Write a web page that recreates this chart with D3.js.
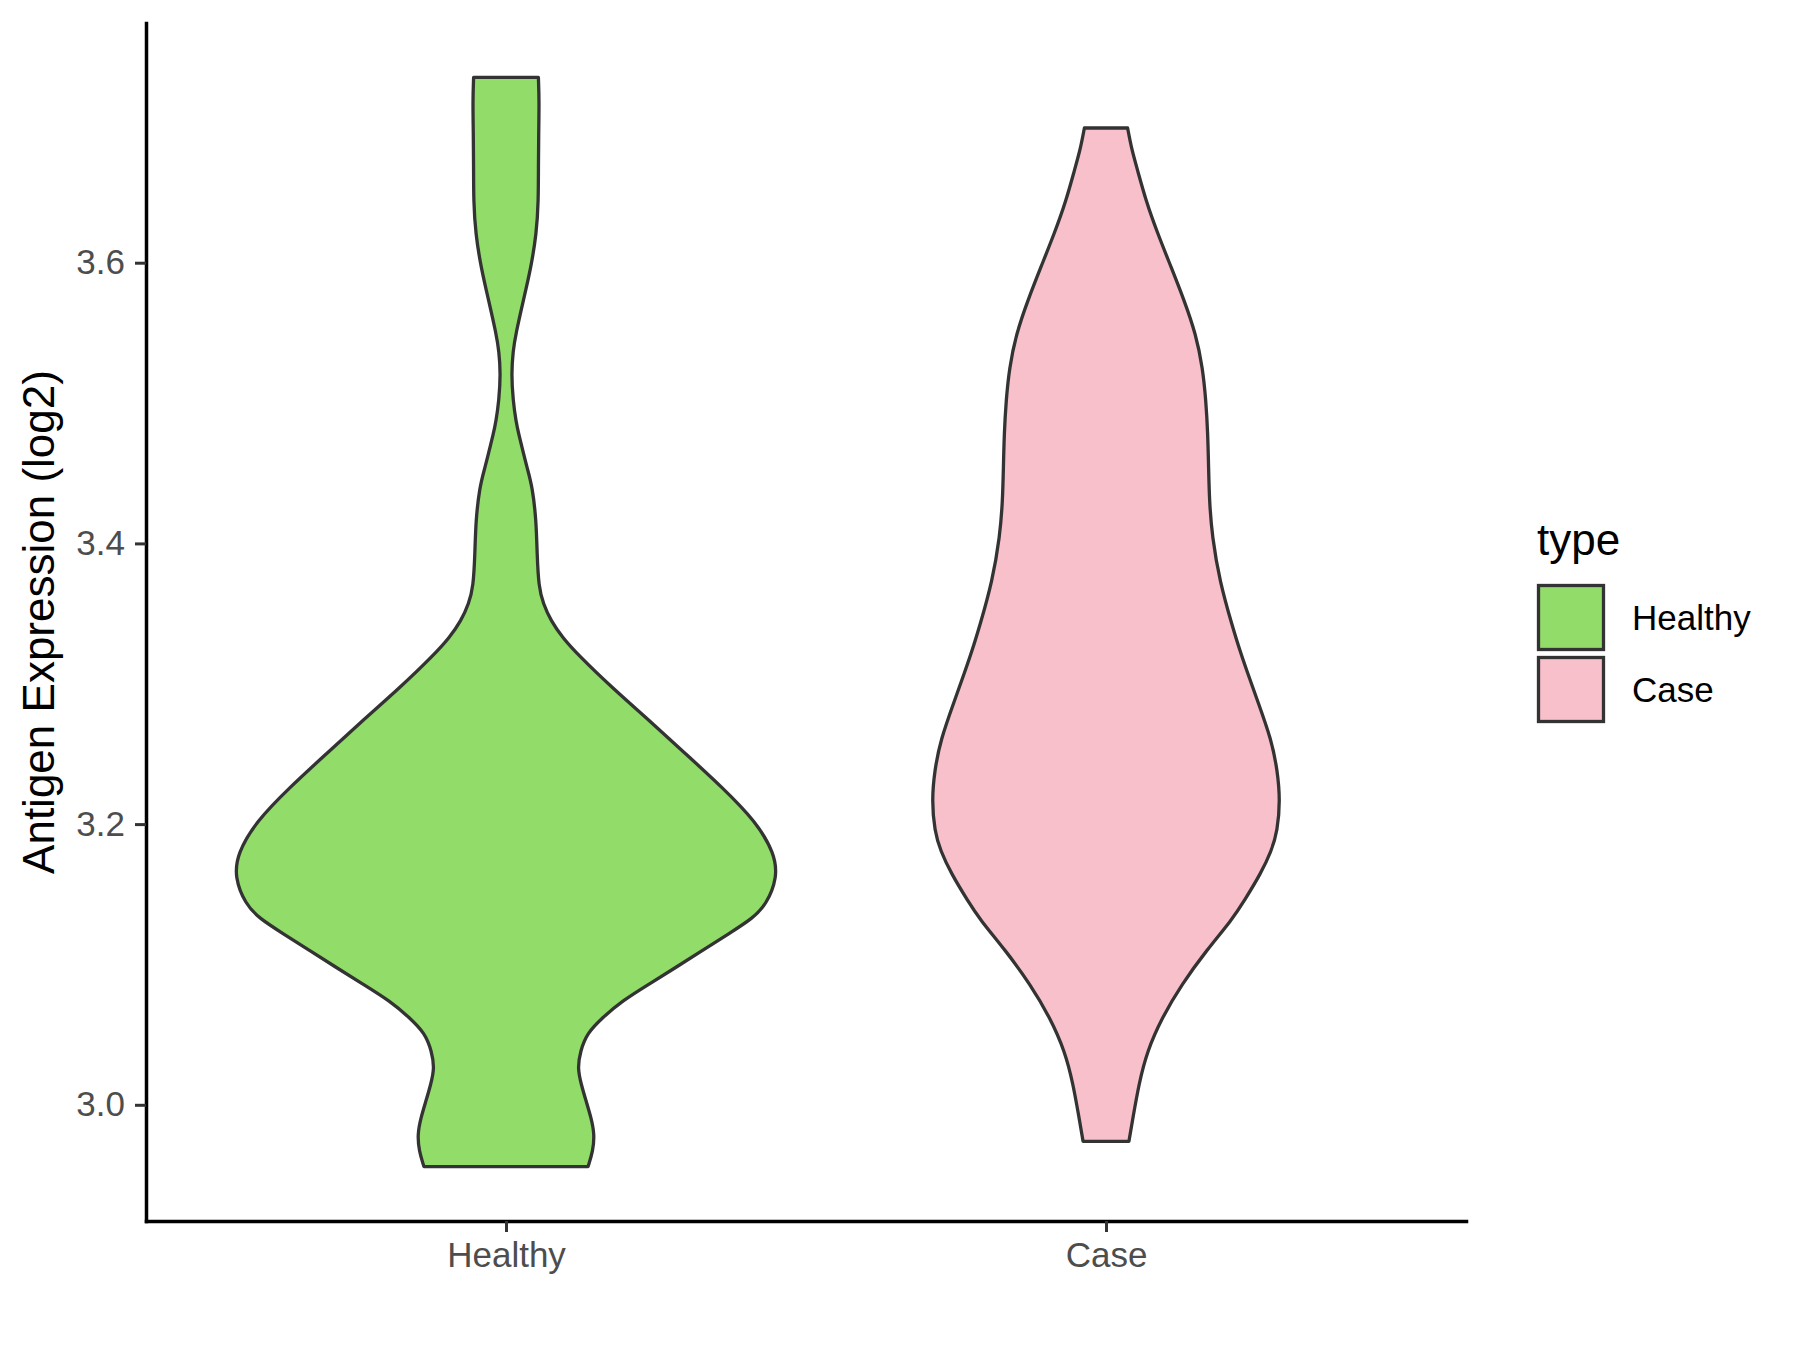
<!DOCTYPE html>
<html>
<head>
<meta charset="utf-8">
<script src="https://cdn.jsdelivr.net/npm/d3@7"></script>
<style>
  body { margin: 0; background: #fff; }
  text { font-family: "Liberation Sans", Arial, sans-serif; }
</style>
</head>
<body>
<div id="svgContainer"></div>
<script>

var WIDTH = 1800;
var HEIGHT = 1350;

// categories and fills
var categories = ["Healthy", "Case"];
var fills = ["#92DC6A", "#F7C0CB"];

// density profile of each violin
// value = antigen expression (log2), dens = relative half width (1 = widest)
var healthyValues = [3.732, 3.715, 3.692, 3.668, 3.644, 3.621, 3.596, 3.573, 3.549, 3.537,
                     3.521, 3.502, 3.487, 3.478, 3.464, 3.454, 3.440, 3.416, 3.393, 3.369,
                     3.357, 3.345, 3.333, 3.321, 3.297, 3.274, 3.250, 3.226, 3.202, 3.179,
                     3.162, 3.143, 3.133, 3.122, 3.110, 3.098, 3.086, 3.074, 3.062, 3.051,
                     3.038, 3.026, 3.015, 3.003, 2.991, 2.979, 2.967, 2.956];
var healthyDens   = [0.120, 0.123, 0.121, 0.120, 0.120, 0.113, 0.092, 0.064, 0.036, 0.026,
                     0.020, 0.026, 0.037, 0.047, 0.065, 0.078, 0.098, 0.112, 0.115, 0.121,
                     0.138, 0.166, 0.209, 0.265, 0.394, 0.530, 0.666, 0.802, 0.925, 0.995,
                     1.005, 0.965, 0.915, 0.826, 0.728, 0.630, 0.530, 0.430, 0.357, 0.300,
                     0.275, 0.265, 0.278, 0.296, 0.315, 0.328, 0.322, 0.304];

var caseValues = [3.696, 3.680, 3.668, 3.644, 3.621, 3.597, 3.573, 3.549, 3.525, 3.502,
                  3.478, 3.454, 3.430, 3.405, 3.373, 3.341, 3.323, 3.309, 3.288, 3.260,
                  3.238, 3.217, 3.195, 3.181, 3.165, 3.145, 3.132, 3.110, 3.086, 3.062,
                  3.038, 3.015, 2.991, 2.974];
var caseDens   = [0.080, 0.096, 0.114, 0.148, 0.191, 0.241, 0.290, 0.333, 0.358, 0.370,
                  0.377, 0.380, 0.383, 0.393, 0.421, 0.468, 0.497, 0.522, 0.561, 0.613,
                  0.635, 0.645, 0.635, 0.613, 0.574, 0.511, 0.467, 0.372, 0.281, 0.207,
                  0.152, 0.122, 0.100, 0.085];

var yTicks = [3.0, 3.2, 3.4, 3.6];

var margin = { top: 23, right: 334, bottom: 129, left: 146 };


function makeProfile(values, dens)
{
    var data = [];
    for (var i = 0; i < values.length; i++) {
        data.push({ value: values[i], dens: dens[i] });
    }
    return data;
}


function makeChart()
{
    var svg = d3.select("#svgContainer").append("svg")
                .attr("width", WIDTH)
                .attr("height", HEIGHT);

    var violins = [makeProfile(healthyValues, healthyDens),
                   makeProfile(caseValues, caseDens)];

    // y range is data extent plus 5% each side, like ggplot
    var allValues = healthyValues.concat(caseValues);
    var lo = d3.min(allValues), hi = d3.max(allValues);
    var pad = (hi - lo) * 0.05;

    var y = d3.scaleLinear()
              .domain([lo - pad, hi + pad])
              .range([HEIGHT - margin.bottom, margin.top]);

    var x = d3.scalePoint()
              .domain(categories)
              .range([margin.left, WIDTH - margin.right])
              .padding(0.6);

    var w = d3.scaleLinear()
              .domain([0, 1])
              .range([0, 0.45 * x.step()]);

    // violins
    violins.forEach(function(profile, i) {
        var cx = x(categories[i]);
        var area = d3.area()
                     .y(function(d) { return y(d.value); })
                     .x0(function(d) { return cx - w(d.dens); })
                     .x1(function(d) { return cx + w(d.dens); })
                     .curve(d3.curveBasis);

        svg.append("path")
           .datum(profile)
           .attr("d", area)
           .style("fill", fills[i])
           .style("stroke", "#333333")
           .style("stroke-width", 3.3)
           .style("stroke-linejoin", "round");
    });

    // axes
    var yAxis = svg.append("g")
                   .attr("transform", "translate(" + margin.left + ",0)")
                   .call(d3.axisLeft(y)
                           .tickValues(yTicks)
                           .tickFormat(d3.format(".1f"))
                           .tickSize(11)
                           .tickSizeOuter(0)
                           .tickPadding(10));

    var xAxis = svg.append("g")
                   .attr("transform", "translate(0," + (HEIGHT - margin.bottom) + ")")
                   .call(d3.axisBottom(x)
                           .tickSize(11)
                           .tickSizeOuter(0)
                           .tickPadding(10));

    [yAxis, xAxis].forEach(function(ax) {
        ax.select(".domain")
          .style("stroke", "#000")
          .style("stroke-width", 3.5)
          .style("stroke-linecap", "square");
        ax.selectAll(".tick line")
          .style("stroke", "#333333")
          .style("stroke-width", 3);
        ax.selectAll(".tick text")
          .style("fill", "#4D4D4D")
          .style("font-size", "35px")
          .style("font-family", "'Liberation Sans', Arial, sans-serif");
    });

    // y axis title
    svg.append("text")
       .attr("transform", "translate(54," + ((margin.top + HEIGHT - margin.bottom) / 2) + ") rotate(-90)")
       .attr("text-anchor", "middle")
       .style("font-size", "44px")
       .style("fill", "#000")
       .text("Antigen Expression (log2)");

    // legend
    var legend = svg.append("g");

    legend.append("text")
          .attr("x", 1537)
          .attr("y", 555)
          .style("font-size", "44px")
          .style("fill", "#000")
          .text("type");

    var keys = legend.selectAll(".key")
                     .data(categories)
                     .enter().append("g")
                     .attr("class", "key")
                     .attr("transform", function(d, i) {
                         return "translate(1538.5," + (585.5 + i * 72) + ")";
                     });

    keys.append("rect")
        .attr("width", 65)
        .attr("height", 64)
        .style("fill", function(d, i) { return fills[i]; })
        .style("stroke", "#333333")
        .style("stroke-width", 3.3);

    keys.append("text")
        .attr("x", 93.5)
        .attr("y", 32)
        .attr("dy", "0.35em")
        .style("font-size", "35px")
        .style("fill", "#000")
        .text(function(d) { return d; });
}


makeChart();

</script>
</body>
</html>
